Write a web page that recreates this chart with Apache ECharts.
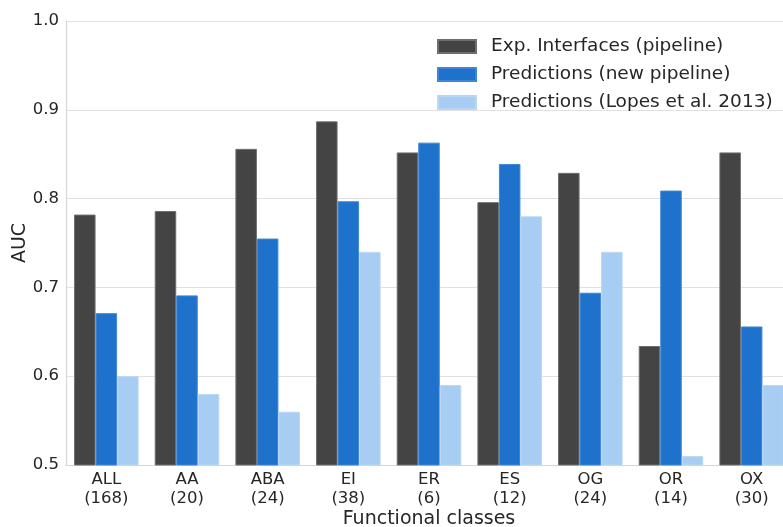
<!DOCTYPE html>
<html>
<head>
<meta charset="utf-8">
<script src="https://cdn.jsdelivr.net/npm/echarts@6/dist/echarts.min.js"></script>
<style>
  html, body { margin: 0; padding: 0; background: #ffffff; }
  #chart { width: 783px; height: 527px; }
</style>
</head>
<body>
<div id="chart"></div>
<script>
// Functional classes (with number of complexes per class)
const categories = ['ALL', 'AA', 'ABA', 'EI', 'ER', 'ES', 'OG', 'OR', 'OX'];
const classSizes = [168, 20, 24, 38, 6, 12, 24, 14, 30];

// AUC per class
const expInterfaces = [0.782, 0.786, 0.856, 0.887, 0.852, 0.796, 0.829, 0.634, 0.852];
const newPipeline   = [0.671, 0.691, 0.755, 0.797, 0.863, 0.839, 0.694, 0.809, 0.656];
const lopes2013     = [0.600, 0.580, 0.560, 0.740, 0.590, 0.780, 0.740, 0.510, 0.590];

const seriesNames = [
  'Exp. Interfaces (pipeline)',
  'Predictions (new pipeline)',
  'Predictions (Lopes et al. 2013)'
];

const yTicks = { min: 0.5, max: 1.0, step: 0.1 };

const FONT = '"DejaVu Sans", sans-serif';
const TEXT = '#262626';

const chart = echarts.init(document.getElementById('chart'), null, { renderer: 'canvas' });

function barSeries(name, data, color, edge) {
  return {
    name: name,
    type: 'bar',
    data: data,
    barGap: '0%',
    barCategoryGap: '20%',
    itemStyle: { color: color, borderColor: edge, borderWidth: 1 },
    emphasis: { disabled: true }
  };
}

chart.setOption({
  animation: false,
  backgroundColor: '#ffffff',
  textStyle: { fontFamily: FONT, color: TEXT },
  grid: {
    left: 66, top: 21, width: 726, height: 444,
    containLabel: false,
    outerBoundsMode: 'none'
  },
  legend: {
    orient: 'vertical',
    left: 432,
    top: 32,
    itemWidth: 38,
    itemHeight: 13,
    itemGap: 9,
    icon: 'rect',
    textStyle: { fontFamily: FONT, fontSize: 18.5, color: TEXT, padding: [0, 0, 0, 10], lineHeight: 18 },
    data: seriesNames
  },
  xAxis: {
    type: 'category',
    data: categories.map((c, i) => c + '\n(' + classSizes[i] + ')'),
    name: 'Functional classes',
    nameLocation: 'middle',
    nameMoveOverlap: false,
    nameGap: 45,
    nameTextStyle: { fontFamily: FONT, fontSize: 19, color: TEXT },
    axisLine: { show: true, lineStyle: { color: '#d6d6d6', width: 1.2 } },
    axisTick: { show: false },
    axisLabel: { fontFamily: FONT, fontSize: 16.5, color: TEXT, margin: 5, lineHeight: 19, interval: 0 },
    splitLine: { show: false }
  },
  yAxis: {
    type: 'value',
    min: yTicks.min,
    max: yTicks.max,
    interval: yTicks.step,
    name: 'AUC',
    nameLocation: 'middle',
    nameMoveOverlap: false,
    nameGap: 36,
    nameTextStyle: { fontFamily: FONT, fontSize: 19, color: TEXT },
    axisLine: { show: true, lineStyle: { color: '#d6d6d6', width: 1.2 } },
    axisTick: { show: false },
    axisLabel: { fontFamily: FONT, fontSize: 16.5, color: TEXT, margin: 7, formatter: v => v.toFixed(1) },
    splitLine: { show: true, lineStyle: { color: '#e0e0e0', width: 1.2 } }
  },
  series: [
    barSeries(seriesNames[0], expInterfaces, '#444444', '#6e6e6e'),
    barSeries(seriesNames[1], newPipeline, '#1e72cb', '#3f87d6'),
    barSeries(seriesNames[2], lopes2013, '#a8cdf2', '#b9d7f4')
  ]
});
</script>
</body>
</html>
